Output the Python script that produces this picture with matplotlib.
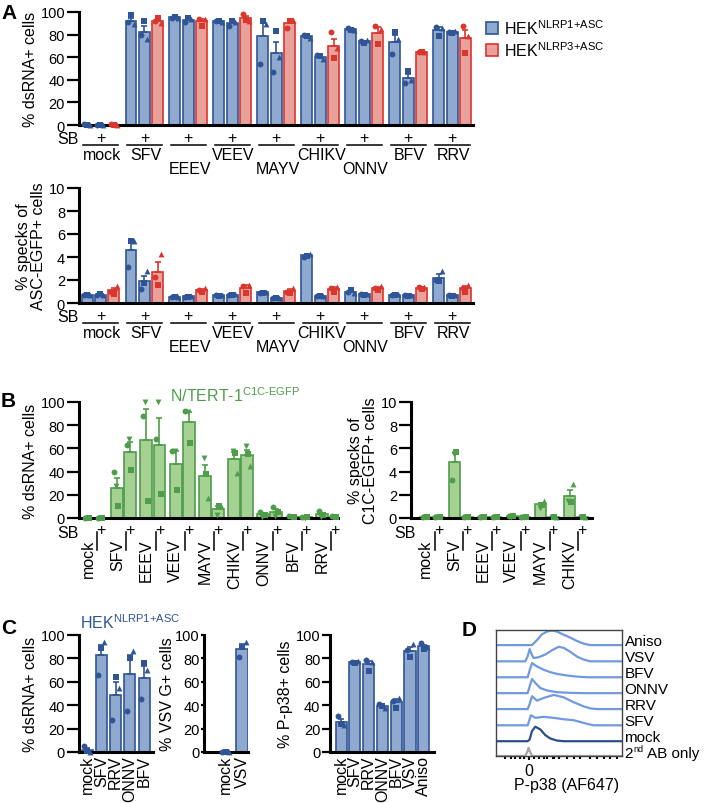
import numpy as np
import matplotlib
matplotlib.use('Agg')
import matplotlib.pyplot as plt
from matplotlib import transforms as mtransforms
from matplotlib.patches import Patch

plt.rcParams['font.family'] = ['Liberation Sans', 'DejaVu Sans']
plt.rcParams['mathtext.fontset'] = 'custom'
plt.rcParams['mathtext.rm'] = 'Liberation Sans'
plt.rcParams['font.size'] = 11.5

W, H = 706, 804

# ---------------- data ----------------
viruses_a = ['mock', 'SFV', 'EEEV', 'VEEV', 'MAYV', 'CHIKV', 'ONNV', 'BFV', 'RRV']

# panel A top: % dsRNA+ cells, 3 replicates (circle, square, triangle)
a_ds_nlrp1 = [[0.5, 0.3, 0.2], [91, 97, 89], [95, 96, 95], [92, 92, 91], [54, 92, 89],
              [80, 79, 77], [86, 84, 84], [63, 82, 76], [87, 79, 86]]
a_ds_nlrp1_sb = [[0.4, 0.3, 0.2], [80, 92, 76], [91, 95, 94], [88, 92, 91], [47, 83, 60],
                 [62, 61, 58], [74, 73, 75], [37, 48, 40], [82, 81, 83]]
a_ds_nlrp3 = [[0.5, 0.3, 0.2], [92, 95, 90], [94, 88, 94], [98, 93, 92], [86, 92, 93],
              [82, 59, 68], [88, 72, 85], [65, 65, 65], [88, 64, 79]]

# panel A bottom: % specks of ASC-EGFP+ cells
a_sp_nlrp1 = [[0.7, 0.7, 0.7], [3.1, 5.4, 5.4], [0.5, 0.5, 0.5], [0.7, 0.6, 0.7], [0.9, 0.85, 1.0],
              [4.0, 4.1, 4.3], [1.0, 1.1, 0.9], [0.7, 0.7, 0.75], [2.0, 1.9, 2.75]]
a_sp_nlrp1_sb = [[0.7, 0.75, 0.7], [1.2, 1.7, 2.8], [0.55, 0.55, 0.6], [0.7, 0.7, 0.75], [0.4, 0.4, 0.45],
                 [0.6, 0.6, 0.65], [0.8, 0.7, 0.8], [0.7, 0.65, 0.7], [0.7, 0.65, 0.7]]
a_sp_nlrp3 = [[1.0, 0.8, 1.5], [2.3, 1.6, 4.3], [1.1, 1.0, 1.3], [1.5, 0.9, 1.6], [1.0, 0.9, 1.3],
              [1.3, 1.0, 1.4], [1.3, 1.1, 1.5], [1.4, 1.2, 1.4], [1.3, 1.0, 1.6]]

# panel B: N/TERT-1 C1C-EGFP, replicates (circle, down-triangle, square, triangle)
nan = np.nan
b_ds_minus = [[0.3, 0.2, 0.3, nan], [39.7, 28, 10, nan], [87.6, 100, 14.7, nan], [58, 58, 24.4, nan],
              [nan, 52, 38, 17.5], [nan, 57.5, 56, 39], [5.5, 1.0, 3.0, nan], [1.5, 1.0, 0.5, nan],
              [6.0, 1.0, 2.5, nan]]
b_ds_plus = [[0.3, 0.2, 0.3, nan], [62.6, 68, 41, nan], [68.4, 100, 20.4, nan], [92, 91, 64.7, nan],
             [nan, 2.3, 10.3, 10.3], [nan, 61.8, 55.5, 44.8], [9.5, 2.0, 5.0, nan], [0.5, 0.3, 0.5, nan],
             [1.5, 1.0, 0.5, nan]]
viruses_b2 = ['mock', 'SFV', 'EEEV', 'VEEV', 'MAYV', 'CHIKV']
b_sp_minus = [[0.05, 0.05, 0.05, nan], [3.3, 5.5, 5.7, nan], [0.05, 0.05, 0.05, nan],
              [0.15, 0.1, 0.15, nan], [nan, 0.9, 1.15, 1.45], [nan, 1.45, 1.4, 2.9]]
b_sp_plus = [[0.05, 0.05, 0.05, nan], [0.05, 0.05, 0.05, nan], [0.05, 0.05, 0.05, nan],
             [0.05, 0.05, 0.05, nan], [nan, 0.05, 0.05, 0.05], [nan, 0.05, 0.05, 0.05]]

# panel C
c1_names = ['mock', 'SFV', 'RRV', 'ONNV', 'BFV']
c1_vals = [[5, 0.5, 0.3], [66, 89, 94], [27, 64, 55], [35, 80, 86], [45, 76, 70]]
c2_names = ['mock', 'VSV']
c2_vals = [[0.3, 0.2, 0.2], [81, 90, 94]]
c3_names = ['mock', 'SFV', 'RRV', 'ONNV', 'BFV', 'VSV', 'Aniso']
c3_vals = [[31, 24, 23], [77, 76, 78], [78.5, 69.5, 76.5], [41, 39, 38], [44, 38, 46],
           [87, 81, 92], [93, 88, 90]]

# panel D: stacked histograms (x in AF647 units, height relative to lane spacing)
d_names = ['Aniso', 'VSV', 'BFV', 'ONNV', 'RRV', 'SFV', 'mock']
d_x = [
    [-0.98, 0.10, 0.25, 0.40, 0.55, 0.70, 0.85, 1.00, 1.25, 1.45, 1.65, 1.85, 2.8],
    [-0.98, -0.10, -0.03, 0.03, 0.09, 0.15, 0.30, 0.50, 0.70, 0.90, 1.05, 1.25, 1.45, 1.65, 1.85, 2.8],
    [-0.98, -0.03, 0.03, 0.10, 0.25, 0.45, 0.65, 0.85, 1.15, 1.45, 1.75, 2.8],
    [-0.98, -0.03, 0.03, 0.10, 0.20, 0.35, 0.55, 0.85, 1.25, 1.65, 2.8],
    [-0.98, -0.03, 0.03, 0.10, 0.25, 0.45, 0.75, 1.05, 1.35, 1.65, 1.85, 2.05, 2.8],
    [-0.98, -0.03, 0.07, 0.20, 0.45, 0.75, 1.05, 1.35, 1.55, 1.75, 1.95, 2.8],
    [-0.98, -0.03, 0.03, 0.10, 0.20, 0.35, 0.50, 0.65, 0.85, 1.05, 2.8],
    [-0.98, -0.10, -0.03, 0.0, 0.03, 0.10, 2.8],
]
d_h = [
    [0, 0, .32, .68, .85, .91, .85, .70, .47, .26, .09, 0, 0],
    [0, 0, .32, .77, .43, .21, .26, .43, .70, .91, .85, .60, .30, .11, 0, 0],
    [0, 0, .43, .89, .68, .47, .32, .21, .11, .04, 0, 0],
    [0, 0, .43, .89, .64, .32, .17, .06, .02, 0, 0],
    [0, 0, .32, .81, .53, .70, .89, .74, .43, .17, .04, 0, 0],
    [0, 0, .64, .47, .53, .47, .38, .32, .21, .09, 0, 0],
    [0, 0, .11, .64, .91, .74, .38, .17, .04, 0, 0],
    [0, 0, .32, .51, .32, 0, 0],
]
d_minor = [-0.7, -0.53, -0.4, -0.25, -0.15, 0.15, 0.3, 0.45, 0.55, 0.72, 0.75, 0.9,
           1.15, 1.35, 1.55, 1.85, 2.05, 2.25, 2.45, 2.65]

# ---------------- style ----------------
BLUE_F, BLUE_E = '#8fa9cf', '#2f5597'
RED_F, RED_E = '#e8a19b', '#d9362e'
GREEN_F, GREEN_E = '#a5d293', '#4f9d4a'
FS = 11.5
FS_D = 11

fig = plt.figure(figsize=(W / 100, H / 100), dpi=100)


def px_axes(l, t, r, b):
    return fig.add_axes([l / W, 1 - b / H, (r - l) / W, (b - t) / H])


def under(ax, off, axes_x=False):
    base = ax.transAxes if axes_x else ax.get_xaxis_transform()
    return base + mtransforms.ScaledTranslation(0, -off / 100, fig.dpi_scale_trans)


def style(ax, ymax, step, ylabel, tick_len=9):
    for s in ['top', 'right']:
        ax.spines[s].set_visible(False)
    for s in ['left', 'bottom']:
        ax.spines[s].set_linewidth(2.2)
        ax.spines[s].set_zorder(5)
    ax.set_ylim(0, ymax)
    ax.set_yticks(np.arange(0, ymax + 0.1, step))
    ax.tick_params(axis='y', length=tick_len, width=1.6, pad=1, labelsize=10.5)
    ax.tick_params(axis='x', length=0)
    ax.set_xticks([])
    ax.set_ylabel(ylabel, fontsize=FS, labelpad=2, linespacing=1.0)


def draw_bars(ax, xs, reps, fc, ec, width, markers, spread=0.22):
    reps = np.array(reps, dtype=float)
    means = np.nanmean(reps, axis=1)
    n = np.sum(~np.isnan(reps), axis=1)
    sem = np.nanstd(reps, axis=1, ddof=1) / np.sqrt(n)
    ax.bar(xs, means, width, color=fc, edgecolor=ec, linewidth=1.2, zorder=2)
    ax.errorbar(xs, means, yerr=[np.zeros_like(sem), sem], fmt='none', ecolor=ec,
                elinewidth=1.2, capsize=2.5, capthick=1.2, zorder=3)
    k = reps.shape[1]
    offs = np.linspace(-spread, spread, k)
    for i in range(k):
        ax.scatter(xs + offs[i], reps[:, i], marker=markers[i], s=18, color=ec,
                   linewidths=0, zorder=6, clip_on=False)


MK3 = ['o', 's', '^']
MK4 = ['o', 'v', 's', '^']

# ---------------- panel A ----------------
GAP_A = 3.28


def panel_a(ax, series, ymax, step, ylabel):
    cols = [(BLUE_F, BLUE_E), (BLUE_F, BLUE_E), (RED_F, RED_E)]
    for j, (vals, (fc, ec)) in enumerate(zip(series, cols)):
        draw_bars(ax, np.arange(9) * GAP_A + j, vals, fc, ec, 0.82, MK3)
    style(ax, ymax, step, ylabel)
    ax.set_xlim(-0.6, 28.8)
    ax.text(0, 0, 'SB', transform=under(ax, 14, True), ha='right', va='center')
    for g, name in enumerate(viruses_a):
        x0 = g * GAP_A
        ax.text(x0 + 1, 0, '+', transform=under(ax, 12), ha='center', va='center')
        ax.plot([x0 - 0.3, x0 + 2.3], [0, 0], transform=under(ax, 20), color='k',
                lw=1.1, clip_on=False)
        off = 43.5 if g in (2, 4, 6) else 29
        ax.text(x0 + 1.1, 0, name, transform=under(ax, off), ha='center', va='center')


ax_a1 = px_axes(79, 13, 473, 126)
panel_a(ax_a1, [a_ds_nlrp1, a_ds_nlrp1_sb, a_ds_nlrp3], 100, 20, '% dsRNA+ cells')
ax_a2 = px_axes(79, 189, 473, 304)
panel_a(ax_a2, [a_sp_nlrp1, a_sp_nlrp1_sb, a_sp_nlrp3], 10, 2, '% specks of\nASC-EGFP+ cells')

handles = [Patch(facecolor=BLUE_F, edgecolor=BLUE_E, lw=1.2),
           Patch(facecolor=RED_F, edgecolor=RED_E, lw=1.2)]
fig.legend(handles, [r'HEK$^{\text{NLRP1+ASC}}$', r'HEK$^{\text{NLRP3+ASC}}$'],
           loc='upper left', bbox_to_anchor=(486 / W, 1 - 19 / H), frameon=False,
           handlelength=0.75, handleheight=0.75, handletextpad=0.4, labelspacing=0.2,
           fontsize=FS, borderaxespad=0, borderpad=0)


# ---------------- panel B ----------------
def panel_b(ax, minus, plus, names, gap, width, ymax, step, ylabel, xlim):
    xs = np.arange(len(names)) * gap
    draw_bars(ax, xs, minus, GREEN_F, GREEN_E, width, MK4, 0.25)
    draw_bars(ax, xs + 1, plus, GREEN_F, GREEN_E, width, MK4, 0.25)
    style(ax, ymax, step, ylabel)
    ax.set_xlim(*xlim)
    h = ax.bbox.height
    for g, name in enumerate(names):
        xp = xs[g] + 1
        ax.text(xp, 0, '+', transform=under(ax, 12), ha='center', va='center')
        ax.plot([xp - 0.3, xp - 0.3], [0, 18 / h], transform=under(ax, 32), color='k',
                lw=1.1, clip_on=False)
        ax.text(xp - 0.42, 0, name, transform=under(ax, 21), rotation=90,
                ha='right', va='top')


ax_b1 = px_axes(79, 403, 338, 519)
panel_b(ax_b1, b_ds_minus, b_ds_plus, viruses_a, 2.246, 0.92, 100, 20, '% dsRNA+ cells',
        (-0.69, 19.2))
ax_b1.text(0, 0, 'SB', transform=under(ax_b1, 14, True), ha='right', va='center')
fig.text(170 / W, 1 - 396 / H, r'N/TERT-1$^{\text{C1C-EGFP}}$',
         color=GREEN_E, ha='left', va='center', fontsize=FS)

ax_b2 = px_axes(411, 403, 592, 519)
panel_b(ax_b2, b_sp_minus, b_sp_plus, viruses_b2, 2.3, 0.88, 10, 2,
        '% specks of\nC1C-EGFP+ cells', (-1.2, 13.3))
ax_b2.text(0.025, 0, 'SB', transform=under(ax_b2, 14, True), ha='right', va='center')


# ---------------- panel C ----------------
def panel_c(ax, names, vals, width, ylabel, xlim, tick_len):
    draw_bars(ax, np.arange(len(names)), vals, BLUE_F, BLUE_E, width, MK3)
    style(ax, 100, 20, ylabel, tick_len)
    ax.set_xlim(*xlim)
    ax.set_xticks(np.arange(len(names)))
    ax.set_xticklabels(names, rotation=90)
    ax.tick_params(axis='x', length=0, pad=2, labelsize=FS)


ax_c1 = px_axes(79, 636, 153, 753)
panel_c(ax_c1, c1_names, c1_vals, 0.77, '% dsRNA+ cells', (-0.56, 4.61), 9)
fig.text(80 / W, 1 - 623 / H, r'HEK$^{\text{NLRP1+ASC}}$',
         color=BLUE_E, ha='left', va='center', fontsize=FS)
ax_c2 = px_axes(204, 636, 248, 753)
panel_c(ax_c2, c2_names, c2_vals, 0.72, '% VSV G+ cells', (-1.3, 1.35), 2)
ax_c2.yaxis.labelpad = 0
ax_c3 = px_axes(330, 636, 434, 753)
panel_c(ax_c3, c3_names, c3_vals, 0.8, '% P-p38+ cells', (-0.8, 6.74), 6)

# ---------------- panel D ----------------
ax_d = px_axes(496, 631, 622, 757)
d_offsets = [6.97, 5.95, 4.95, 3.95, 2.95, 1.93, 0.93, 0.0]
d_colors = ['#6f9ae0'] * 6 + ['#2b4f8e', '#a6a6a6']
for xs, hs, y0, c in zip(d_x, d_h, d_offsets, d_colors):
    ax_d.plot(xs, np.array(hs) + y0, color=c, lw=1.6, solid_joinstyle='round')
ytr = ax_d.get_yaxis_transform()
for name, y0 in zip(d_names, d_offsets):
    ax_d.text(1.02, y0 + 0.25, name, transform=ytr, ha='left', va='center', fontsize=FS_D)
# "2nd AB only" with a small superscript
ax_d.text(1.02, 0.2, '2', transform=ytr, ha='left', va='center', fontsize=FS_D)
ax_d.text(1.02, 0.2, 'nd', transform=ytr + mtransforms.ScaledTranslation(0.087, 0.04, fig.dpi_scale_trans),
          ha='left', va='center', fontsize=6.5)
ax_d.text(1.02, 0.2, 'AB only', transform=ytr + mtransforms.ScaledTranslation(0.225, 0, fig.dpi_scale_trans),
          ha='left', va='center', fontsize=FS_D)
ax_d.set_xlim(-0.98, 2.8)
ax_d.set_ylim(0, 7.92)
ax_d.set_yticks([])
ax_d.set_xticks([0])
ax_d.set_xticklabels(['0'])
ax_d.set_xticks(d_minor, minor=True)
ax_d.tick_params(axis='x', which='major', length=3, width=1.5, pad=2, labelsize=FS)
ax_d.tick_params(axis='x', which='minor', length=2.5, width=1.5)
for s in ax_d.spines.values():
    s.set_linewidth(1.0)
    s.set_color('#444444')
ax_d.set_xlabel('P-p38 (AF647)', fontsize=FS)
ax_d.xaxis.set_label_coords((567 - 496) / 126, -0.17)

# ---------------- panel letters ----------------
for letter, x, y in [('A', 1, 4), ('B', 1, 392), ('C', 1, 619), ('D', 462, 621)]:
    fig.text(x / W, 1 - y / H, letter, fontsize=15, fontweight='bold', ha='left', va='top')

fig.savefig('out.png', dpi=100)
